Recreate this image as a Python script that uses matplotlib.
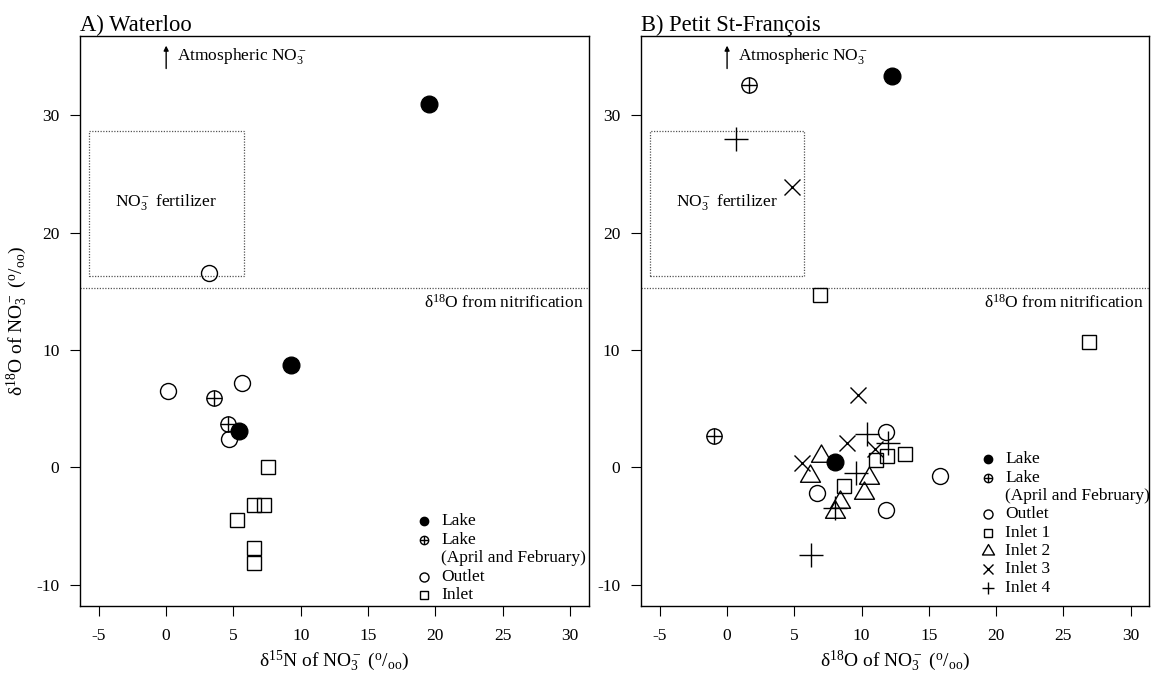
import matplotlib
matplotlib.use("Agg")
import matplotlib.pyplot as plt
from matplotlib.patches import Rectangle
from matplotlib.path import Path

plt.rcParams['font.family'] = ['Liberation Serif', 'DejaVu Serif']
plt.rcParams['mathtext.fontset'] = 'custom'
plt.rcParams['mathtext.rm'] = 'Liberation Serif'
plt.rcParams['mathtext.it'] = 'Liberation Serif:italic'
plt.rcParams['axes.unicode_minus'] = False

# ---- Panel A: Waterloo (d15N vs d18O of nitrate) ----
wat_lake_x = [19.5, 9.3, 5.4]
wat_lake_y = [31.0, 8.7, 3.1]
wat_lake_af_x = [3.55, 4.6]
wat_lake_af_y = [5.95, 3.7]
wat_outlet_x = [3.2, 0.1, 5.65, 4.7]
wat_outlet_y = [16.6, 6.5, 7.2, 2.4]
wat_inlet_x = [7.6, 6.55, 7.25, 5.3, 6.5, 6.5]
wat_inlet_y = [0.0, -3.2, -3.2, -4.45, -6.85, -8.2]

# ---- Panel B: Petit St-Francois ----
psf_lake_x = [12.3, 8.0]
psf_lake_y = [33.4, 0.45]
psf_lake_af_x = [1.65, -1.0]
psf_lake_af_y = [32.6, 2.65]
psf_outlet_x = [11.8, 15.85, 6.65, 11.8]
psf_outlet_y = [3.0, -0.7, -2.15, -3.6]
psf_inlet1_x = [6.9, 26.9, 8.7, 11.05, 11.9, 13.2]
psf_inlet1_y = [14.7, 10.7, -1.6, 0.65, 0.95, 1.1]
psf_inlet2_x = [6.95, 6.2, 10.55, 10.15, 8.4, 8.0]
psf_inlet2_y = [1.0, -0.7, -0.95, -2.15, -3.0, -3.85]
psf_inlet3_x = [4.8, 9.7, 5.6, 8.9, 11.0]
psf_inlet3_y = [23.9, 6.15, 0.4, 2.05, 1.6]
psf_inlet4_x = [0.7, 6.25, 10.4, 12.0, 9.6, 8.0]
psf_inlet4_y = [28.0, -7.45, 2.8, 2.05, -0.5, -3.5]

# source reference areas
fert_box = (-5.75, 16.3, 5.75, 28.7)   # x0, y0, x1, y1
nitrif_o18 = 15.3

xticks = [-5, 0, 5, 10, 15, 20, 25, 30]
yticks = [-10, 0, 10, 20, 30]

FS = 12.5
TRI = Path([(0, 1), (-0.866, -0.5), (0.866, -0.5), (0, 1)], closed=True)

STYLES = {
    'lake': [dict(marker='o', mfc='black', mec='black', ms=12)],
    'lake_af': [dict(marker='o', mfc='none', mec='black', ms=11),
                dict(marker='+', mec='black', ms=11)],
    'outlet': [dict(marker='o', mfc='none', mec='black', ms=11.5)],
    'inlet1': [dict(marker='s', mfc='none', mec='black', ms=10.3)],
    'inlet2': [dict(marker=TRI, mfc='none', mec='black', ms=16.6)],
    'inlet3': [dict(marker='x', mec='black', ms=12)],
    'inlet4': [dict(marker='+', mec='black', ms=16.6)],
}
KEY_SIZE = {'lake': 6, 'lake_af': 6, 'outlet': 6.5, 'inlet1': 6,
            'inlet2': 10, 'inlet3': 6.5, 'inlet4': 9}


def pts(ax, x, y, kind, scale=None, **kw):
    for st in STYLES[kind]:
        st = dict(st)
        if scale is not None:
            st['ms'] = scale
        ax.plot(x, y, linestyle='none', mew=1.0, **st, **kw)


def draw_key(ax, entries, mx, tx, ys):
    for (label, kind), y in zip(entries, ys):
        if kind is not None:
            pts(ax, [mx], [y], kind, scale=KEY_SIZE[kind],
                transform=ax.transAxes, clip_on=False)
        ax.text(tx, y, label, transform=ax.transAxes, va='center',
                ha='left', fontsize=FS)


def base(ax, title, xlabel):
    ax.set_xlim(-6.4, 31.4)
    ax.set_ylim(-11.8, 36.8)
    ax.set_xticks(xticks)
    ax.set_yticks(yticks)
    ax.tick_params(direction='out', length=7.2, width=0.8, labelsize=FS)
    ax.tick_params(axis='x', pad=8.5)
    ax.tick_params(axis='y', pad=7.7)
    for sp in ax.spines.values():
        sp.set_linewidth(1.0)
    ax.set_title(title, loc='left', fontsize=16.3, pad=2)
    ax.set_xlabel(xlabel, fontsize=14)
    ax.xaxis.set_label_coords(0.5, -0.075)

    x0, y0, x1, y1 = fert_box
    ax.add_patch(Rectangle((x0, y0), x1 - x0, y1 - y0, fill=False,
                           edgecolor='#555555', lw=0.9,
                           linestyle=(0, (1, 1.2))))
    ax.axhline(nitrif_o18, color='#555555', lw=0.9, linestyle=(0, (1, 1.2)))
    ax.annotate('', xy=(0, 35.95), xytext=(0, 34.0),
                arrowprops=dict(arrowstyle='-|>', lw=1.0, color='black',
                                mutation_scale=7, shrinkA=0, shrinkB=0))
    ax.text(0.8, 35.1, r'Atmospheric NO$\mathregular{_3^-}$', fontsize=FS,
            va='center', ha='left')
    ax.text(0.0, 22.6, r'NO$\mathregular{_3^-}$ fertilizer', fontsize=FS,
            va='center', ha='center')
    ax.text(31.0, 14.05, r'δ$\mathregular{^{18}}$O from nitrification',
            fontsize=FS, va='center', ha='right')


fig = plt.figure(figsize=(11.6, 6.77), dpi=100)
axA = fig.add_axes([0.069, 0.1053, 0.4385, 0.8420])
axB = fig.add_axes([0.5526, 0.1053, 0.4382, 0.8420])

base(axA, 'A) Waterloo', r'δ$\mathregular{^{15}}$N of NO$\mathregular{_3^-}$ ($\mathregular{^o/_{oo}}$)')
axA.set_ylabel(r'δ$\mathregular{^{18}}$O of NO$\mathregular{_3^-}$ ($\mathregular{^o/_{oo}}$)',
               fontsize=14)
axA.yaxis.set_label_coords(-0.098, 0.5)

pts(axA, wat_lake_x, wat_lake_y, 'lake')
pts(axA, wat_lake_af_x, wat_lake_af_y, 'lake_af')
pts(axA, wat_outlet_x, wat_outlet_y, 'outlet')
pts(axA, wat_inlet_x, wat_inlet_y, 'inlet1')

draw_key(axA, [('Lake', 'lake'), ('Lake', 'lake_af'),
               ('(April and February)', None), ('Outlet', 'outlet'),
               ('Inlet', 'inlet1')],
         0.677, 0.710, [0.1486, 0.1161, 0.0837, 0.0512, 0.0188])

base(axB, 'B) Petit St-François', r'δ$\mathregular{^{18}}$O of NO$\mathregular{_3^-}$ ($\mathregular{^o/_{oo}}$)')

pts(axB, psf_lake_x, psf_lake_y, 'lake')
pts(axB, psf_lake_af_x, psf_lake_af_y, 'lake_af')
pts(axB, psf_outlet_x, psf_outlet_y, 'outlet')
pts(axB, psf_inlet1_x, psf_inlet1_y, 'inlet1')
pts(axB, psf_inlet2_x, psf_inlet2_y, 'inlet2')
pts(axB, psf_inlet3_x, psf_inlet3_y, 'inlet3')
pts(axB, psf_inlet4_x, psf_inlet4_y, 'inlet4')

draw_key(axB, [('Lake', 'lake'), ('Lake', 'lake_af'),
               ('(April and February)', None), ('Outlet', 'outlet'),
               ('Inlet 1', 'inlet1'), ('Inlet 2', 'inlet2'),
               ('Inlet 3', 'inlet3'), ('Inlet 4', 'inlet4')],
         0.683, 0.716,
         [0.2568, 0.2247, 0.1925, 0.1604, 0.1282, 0.0960, 0.0639, 0.0318])

fig.savefig('out.png', dpi=100)
